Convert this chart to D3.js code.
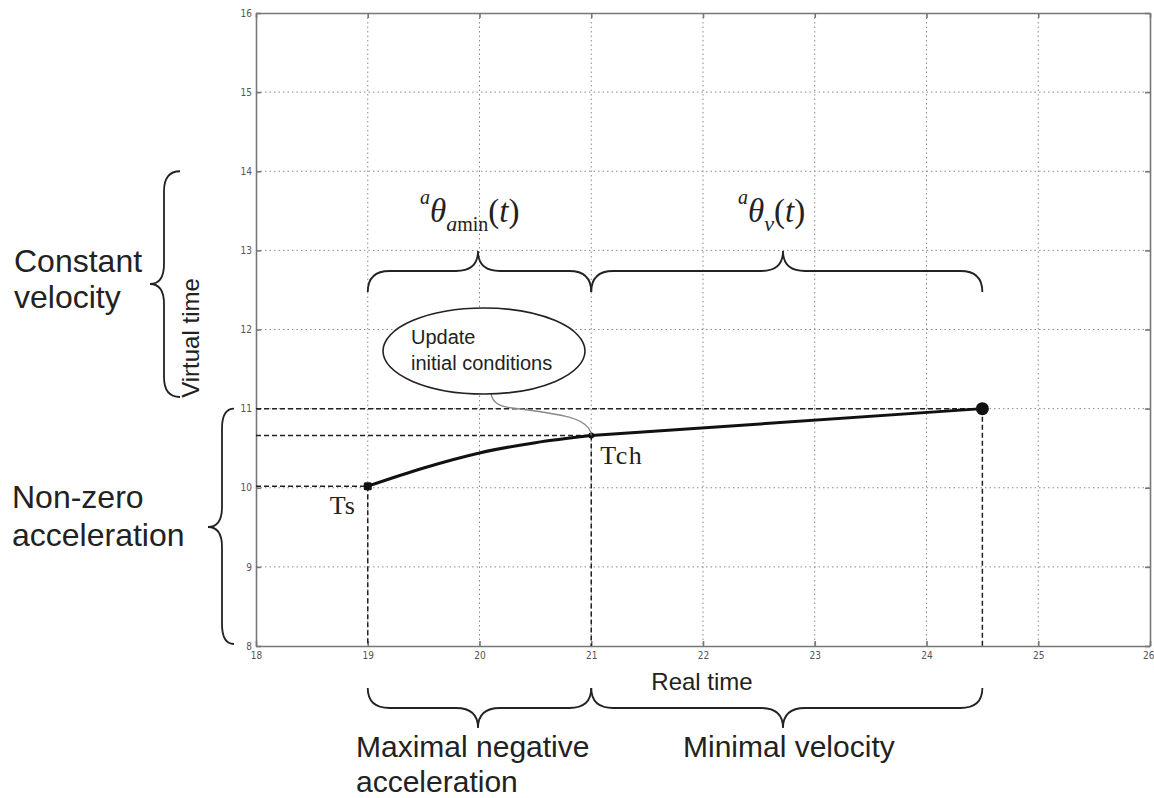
<!DOCTYPE html>
<html>
<head>
<meta charset="utf-8">
<script src="https://cdn.jsdelivr.net/npm/d3@7"></script>
<style>
  html, body { margin: 0; padding: 0; background: #fff; }
  svg { display: block; }
  .sans { font-family: "Liberation Sans", Arial, sans-serif; fill: #222; }
  .serif { font-family: "Liberation Serif", "Times New Roman", serif; fill: #222; }
  .tick-label { font-family: "Liberation Sans Narrow", "DejaVu Sans Condensed", "Liberation Sans", sans-serif; font-size: 10px; fill: #555; }
</style>
</head>
<body>
<svg id="chart" width="1154" height="798"></svg>
<script>
// Axis ticks
const xTicks = [18, 19, 20, 21, 22, 23, 24, 25, 26];
const yTicks = [8, 9, 10, 11, 12, 13, 14, 15, 16];

// Trajectory: maximal negative acceleration phase (Ts -> Tch)
const decelReal    = [19, 19.5, 20, 20.5, 21];
const decelVirtual = [10.02, 10.25, 10.44, 10.57, 10.66];

// Trajectory: minimal (constant) velocity phase (Tch -> end)
const constReal    = [21, 24.5];
const constVirtual = [10.66, 11.0];

// Key instants
const keyNames   = ["Ts", "Tch", "End"];
const keyReal    = [19, 21, 24.5];
const keyVirtual = [10.02, 10.66, 11.0];

const svg = d3.select("#chart");

const x = d3.scaleLinear().domain([18, 26]).range([256, 1150]);
const y = d3.scaleLinear().domain([8, 16]).range([646, 13]);

const plot = svg.append("g");

// dotted grid
plot.append("g").selectAll("line")
  .data(xTicks.slice(1, -1)).join("line")
  .attr("x1", d => x(d)).attr("x2", d => x(d))
  .attr("y1", y(16)).attr("y2", y(8))
  .attr("stroke", "#8a8a8a").attr("stroke-width", 1)
  .attr("stroke-dasharray", "1.5,3");
plot.append("g").selectAll("line")
  .data(yTicks.slice(1, -1)).join("line")
  .attr("y1", d => y(d)).attr("y2", d => y(d))
  .attr("x1", x(18)).attr("x2", x(26))
  .attr("stroke", "#8a8a8a").attr("stroke-width", 1)
  .attr("stroke-dasharray", "1.5,3");

// axes (box with inward ticks on all sides)
const axStyle = g => g.call(s => s.select(".domain").attr("stroke", "#777").attr("stroke-width", 1.6))
  .call(s => s.selectAll(".tick line").attr("stroke", "#777").attr("stroke-width", 1.6))
  .call(s => s.selectAll(".tick text").attr("class", "tick-label"));

const bottomAxis = plot.append("g").attr("transform", `translate(0,${y(8)})`)
  .call(d3.axisBottom(x).tickValues(xTicks).tickSize(-5).tickSizeOuter(0).tickPadding(6))
  .call(axStyle);
// keep the last label inside the page
bottomAxis.selectAll(".tick text").filter(d => d === 26).attr("text-anchor", "end").attr("dx", 4);
plot.append("g").attr("transform", `translate(0,${y(16)})`)
  .call(d3.axisTop(x).tickValues(xTicks).tickSize(-5).tickSizeOuter(0).tickFormat(""))
  .call(axStyle);
plot.append("g").attr("transform", `translate(${x(18)},0)`)
  .call(d3.axisLeft(y).tickValues(yTicks).tickSize(-5).tickSizeOuter(0).tickPadding(4))
  .call(axStyle);
plot.append("g").attr("transform", `translate(${x(26)},0)`)
  .call(d3.axisRight(y).tickValues(yTicks).tickSize(-5).tickSizeOuter(0).tickFormat(""))
  .call(axStyle);
svg.selectAll(".tick-label").attr("font-family", null).attr("font-size", null);

// dashed projection lines from key instants to the axes
const dashed = plot.append("g").attr("stroke", "#222").attr("stroke-width", 1.5)
  .attr("stroke-dasharray", "5,3").attr("fill", "none");
keyReal.forEach((r, i) => {
  dashed.append("line")
    .attr("x1", x(18)).attr("x2", x(r))
    .attr("y1", y(keyVirtual[i])).attr("y2", y(keyVirtual[i]));
  dashed.append("line")
    .attr("x1", x(r)).attr("x2", x(r))
    .attr("y1", y(keyVirtual[i])).attr("y2", y(8));
});

// callout: update initial conditions at Tch
const callout = svg.append("g");
callout.append("path")
  .attr("d", `M491,394 C493,402 497,406 512,408 C562,414 590,418 ${x(21)},${y(10.66)}`)
  .attr("fill", "none").attr("stroke", "#888").attr("stroke-width", 1.3);
callout.append("ellipse")
  .attr("cx", 484).attr("cy", 351).attr("rx", 101).attr("ry", 43)
  .attr("fill", "#fff").attr("stroke", "#222").attr("stroke-width", 1.6);
callout.append("text").attr("class", "sans").attr("font-size", 20)
  .attr("x", 411).attr("y", 344).text("Update");
callout.append("text").attr("class", "sans").attr("font-size", 20)
  .attr("x", 411).attr("y", 370).text("initial conditions");

// trajectory
const line = d3.line().x(d => x(d[0])).y(d => y(d[1]));
plot.append("path")
  .datum(decelReal.map((r, i) => [r, decelVirtual[i]]))
  .attr("d", line.curve(d3.curveMonotoneX))
  .attr("fill", "none").attr("stroke", "#111").attr("stroke-width", 3);
plot.append("path")
  .datum(constReal.map((r, i) => [r, constVirtual[i]]))
  .attr("d", d3.line().x(d => x(d[0])).y(d => y(d[1])))
  .attr("fill", "none").attr("stroke", "#111").attr("stroke-width", 3);

// markers
plot.append("rect")
  .attr("x", x(keyReal[0]) - 4).attr("y", y(keyVirtual[0]) - 4)
  .attr("width", 8).attr("height", 8).attr("rx", 1.5).attr("fill", "#111");
plot.append("circle")
  .attr("cx", x(keyReal[1])).attr("cy", y(keyVirtual[1])).attr("r", 3).attr("fill", "#111");
plot.append("circle")
  .attr("cx", x(keyReal[2])).attr("cy", y(keyVirtual[2])).attr("r", 6.5).attr("fill", "#111");

// point names
svg.append("text").attr("class", "serif").attr("font-size", 26).attr("letter-spacing", 1)
  .attr("x", x(keyReal[0]) - 38).attr("y", 514).text(keyNames[0]);
svg.append("text").attr("class", "serif").attr("font-size", 26).attr("letter-spacing", 1.5)
  .attr("x", x(keyReal[1]) + 9).attr("y", 464).text(keyNames[1]);

// curly braces (horizontal and vertical)
function hBrace(x1, x2, xm, yEnd, yFlat, yTip) {
  const r = 22;
  return `M${x1},${yEnd} Q${x1},${yFlat} ${x1 + r},${yFlat} L${xm - r},${yFlat} ` +
         `Q${xm},${yFlat} ${xm},${yTip} Q${xm},${yFlat} ${xm + r},${yFlat} ` +
         `L${x2 - r},${yFlat} Q${x2},${yFlat} ${x2},${yEnd}`;
}
function vBrace(y1, y2, ym, xEnd, xFlat, xTip) {
  const r = 20;
  return `M${xEnd},${y1} Q${xFlat},${y1} ${xFlat},${y1 + r} L${xFlat},${ym - r} ` +
         `Q${xFlat},${ym} ${xTip},${ym} Q${xFlat},${ym} ${xFlat},${ym + r} ` +
         `L${xFlat},${y2 - r} Q${xFlat},${y2} ${xEnd},${y2}`;
}
const braces = svg.append("g").attr("fill", "none").attr("stroke", "#222").attr("stroke-width", 1.8);
// above the plot
braces.append("path").attr("d", hBrace(x(19), x(21), 478, 292, 271, 251));
braces.append("path").attr("d", hBrace(x(21), x(24.5), 783, 292, 271, 251));
// below the axis
braces.append("path").attr("d", hBrace(x(19), x(21), 478, 688, 708, 728));
braces.append("path").attr("d", hBrace(x(21), x(24.5), 783, 688, 708, 728));
// left of the axis
braces.append("path").attr("d", vBrace(y(14), 397, 284, 180, 164, 150));
braces.append("path").attr("d", vBrace(y(11), y(8) - 2, 527, 234, 222, 208));

// phase formulas
function formula(xPos, subItalic, subRoman) {
  const t = svg.append("text").attr("class", "serif").attr("x", xPos).attr("y", 222).attr("font-size", 33);
  t.append("tspan").attr("font-style", "italic").attr("font-size", 20).attr("dy", -18).text("a");
  t.append("tspan").attr("font-style", "italic").attr("dy", 18).text("\u03B8");
  t.append("tspan").attr("font-style", "italic").attr("font-size", 22).attr("dy", 9).text(subItalic);
  if (subRoman) t.append("tspan").attr("font-size", 20).text(subRoman);
  t.append("tspan").attr("dy", -9).text("(");
  t.append("tspan").attr("font-style", "italic").text("t");
  t.append("tspan").text(")");
}
formula(420, "a", "min");
formula(738, "v", null);

// axis titles and phase names
svg.append("text").attr("class", "sans").attr("font-size", 24)
  .attr("x", 702).attr("y", 690).attr("text-anchor", "middle").text("Real time");
svg.append("text").attr("class", "sans").attr("font-size", 24)
  .attr("transform", "translate(199,338) rotate(-90)").attr("text-anchor", "middle").text("Virtual time");

const big = (txt, xp, yp, fs) => svg.append("text").attr("class", "sans").attr("font-size", fs || 32)
  .attr("x", xp).attr("y", yp).text(txt);
big("Constant", 14, 272);
big("velocity", 14, 308);
big("Non-zero", 12, 508);
big("acceleration", 12, 546);
big("Maximal negative", 356, 757, 30);
big("acceleration", 356, 792, 30);
big("Minimal velocity", 683, 757, 30);
</script>
</body>
</html>
